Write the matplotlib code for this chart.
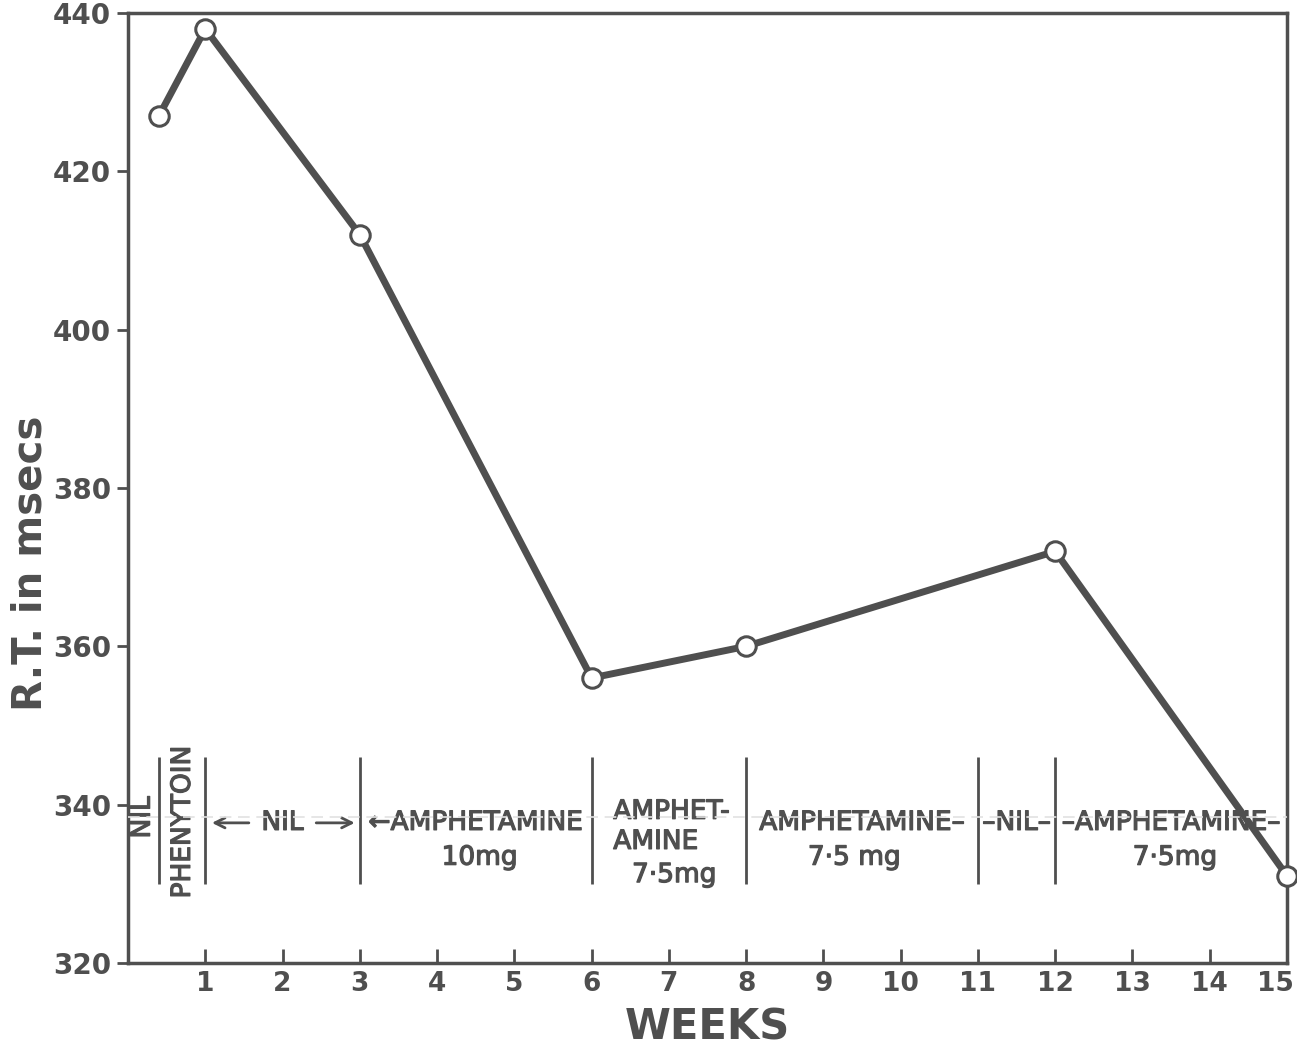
import matplotlib
matplotlib.use("Agg")
import matplotlib.pyplot as plt
import matplotlib.patheffects as pe
from matplotlib.transforms import ScaledTranslation

# reaction time by week
weeks = [0.4, 1, 3, 6, 8, 12, 15]
rt = [427, 438, 412, 356, 360, 372, 331]

# treatment period boundaries (weeks)
dividers = [0.4, 1, 3, 6, 8, 11, 12]

x_ticks = list(range(1, 16))
y_ticks = [320, 340, 360, 380, 400, 420, 440]

ink = "#4f4f4f"
plt.rcParams["font.family"] = ["DejaVu Sans"]

fig = plt.figure(figsize=(12.97, 10.49), dpi=100)
ax = fig.add_axes([0.0987, 0.082, 0.8936, 0.9056])

ax.plot(weeks, rt, color=ink, lw=5, marker="o", ms=14, mfc="white",
        mec=ink, mew=2.2, clip_on=False, zorder=4)

# treatment bars
for d in dividers:
    ax.vlines(d, 330, 346, color=ink, lw=2)

fs = 19
thick = [pe.withStroke(linewidth=0.9, foreground=ink)]
kw = dict(color=ink, fontsize=fs, ha="center", va="center", path_effects=thick)
ax.text(0.19, 338.4, "NIL", rotation=90, **kw)
ax.text(0.71, 337.8, "PHENYTOIN", rotation=90, **kw)

ax.text(2.0, 337.7, "NIL", **kw)
arrow = dict(arrowstyle="->", color=ink, lw=2, mutation_scale=18)
ax.annotate("", xy=(1.05, 337.7), xytext=(1.6, 337.7), arrowprops=arrow)
ax.annotate("", xy=(2.97, 337.7), xytext=(2.4, 337.7), arrowprops=arrow)

ax.text(4.5, 337.7, "←AMPHETAMINE", **kw)
ax.text(4.55, 333.3, "10mg", **kw)

left = dict(kw, ha="left")
ax.text(6.28, 339.1, "AMPHET-", **left)
ax.text(6.28, 335.3, "AMINE", **left)
ax.text(7.07, 331.1, "7·5mg", **kw)

ax.text(9.5, 337.7, "AMPHETAMINE–", **kw)
ax.text(9.4, 333.3, "7·5 mg", **kw)

ax.text(11.5, 337.7, "–NIL–", **kw)

ax.text(13.5, 337.7, "–AMPHETAMINE–", **kw)
ax.text(13.55, 333.3, "7·5mg", **kw)

# faint scan line across the treatment labels
ax.axhline(338.4, color="#e2e2e2", lw=1.2, ls=(0, (7, 4)), zorder=6)

ax.set_xlim(0, 15)
ax.set_ylim(320, 440)
ax.set_xticks(x_ticks)
ax.set_yticks(y_ticks)
ax.tick_params(axis="x", direction="in", length=10, width=2, color=ink,
               labelcolor=ink, labelsize=19, pad=6)
ax.tick_params(axis="y", direction="out", length=8, width=2, color=ink,
               labelcolor=ink, labelsize=20, pad=4)
for lab in ax.get_xticklabels() + ax.get_yticklabels():
    lab.set_fontweight("bold")
# keep the last week label inside the figure
last = ax.get_xticklabels()[-1]
last.set_transform(last.get_transform() + ScaledTranslation(-8 / 72, 0, fig.dpi_scale_trans))

for sp in ax.spines.values():
    sp.set_color(ink)
    sp.set_linewidth(2.5)

fig.text(707 / 1297, 1 - 1027 / 1049, "WEEKS", fontsize=30, fontweight="bold",
         color=ink, ha="center", va="center")
fig.text(31 / 1297, 1 - 563 / 1049, "R.T. in msecs", fontsize=29,
         fontweight="bold", color=ink, rotation=90, ha="center", va="center")

fig.savefig("out.png", dpi=100)
